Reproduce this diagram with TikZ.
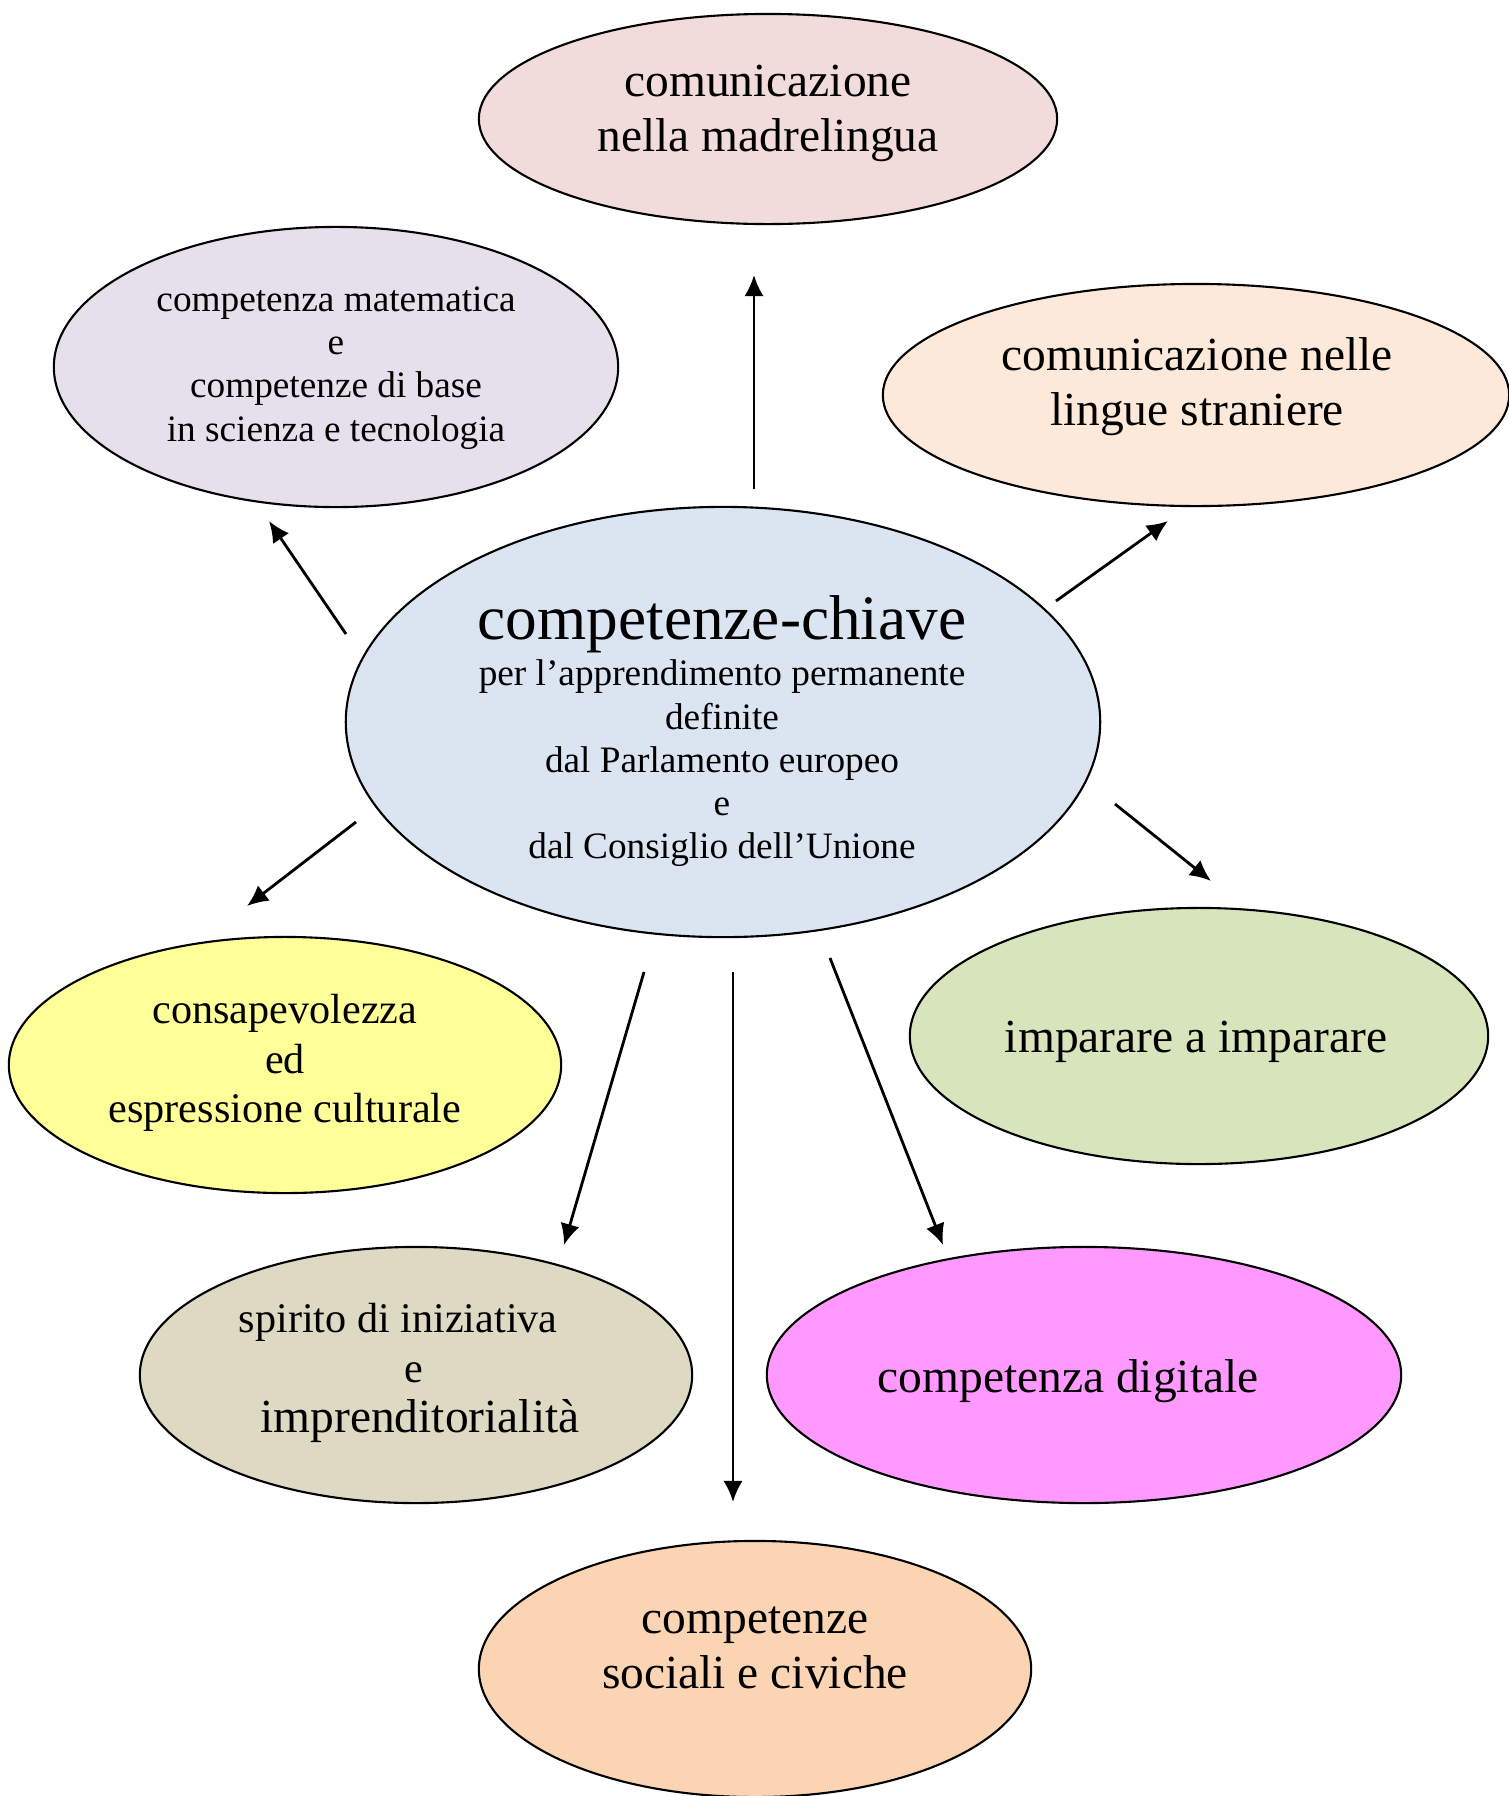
\documentclass[tikz,border=0pt]{standalone}
\usepackage{fontspec}
\setmainfont{Liberation Serif}
\usetikzlibrary{shapes.geometric, arrows.meta}

\definecolor{rosa}{HTML}{F2DCDB}
\definecolor{lilla}{HTML}{E5E0EC}
\definecolor{pesca}{HTML}{FDE9D9}
\definecolor{azzurro}{HTML}{DBE5F1}
\definecolor{giallo}{HTML}{FFFF99}
\definecolor{verde}{HTML}{D7E4BC}
\definecolor{sabbia}{HTML}{DDD9C3}
\definecolor{fucsia}{HTML}{FF99FF}
\definecolor{albicocca}{HTML}{FBD4B4}

\begin{document}
\begin{tikzpicture}[x=0.01cm, y=-0.01cm,
    bolla/.style={ellipse, draw, line width=0.6pt, inner sep=0pt},
    freccia/.style={-{Latex[length=6pt,width=5.5pt]}, line width=0.8pt},
    testo/.style={align=center, font=\fontsize{13.5}{15.6}\selectfont},
    testopiccolo/.style={align=center, font=\fontsize{10.6}{12.3}\selectfont}]

    \useasboundingbox (0,0) rectangle (1509,1796);

    % Central ellipse
    \node[bolla, fill=azzurro, minimum width=7.54cm, minimum height=4.30cm] (chiave) at (723,722) {};
    \node[testopiccolo] (chiave-t) at (722,731) {{\fontsize{18}{20}\selectfont competenze-chiave}\\[1pt]
        per l’apprendimento permanente\\ definite\\ dal Parlamento europeo\\ e\\ dal Consiglio dell’Unione};

    % Top row
    \node[bolla, fill=rosa, minimum width=5.78cm, minimum height=2.10cm] (madre) at (768,119) {};
    \node[testo] (madre-t) at (768,113) {comunicazione\\nella madrelingua};

    \node[bolla, fill=lilla, minimum width=5.64cm, minimum height=2.80cm] (mate) at (336,367) {};
    \node[testopiccolo] (mate-t) at (336,368) {competenza matematica\\e\\competenze di base\\in scienza e tecnologia};

    \node[bolla, fill=pesca, minimum width=6.26cm, minimum height=2.22cm] (lingue) at (1196,395) {};
    \node[testo] (lingue-t) at (1197,387) {comunicazione nelle\\lingue straniere};

    % Middle row
    \node[bolla, fill=giallo, minimum width=5.52cm, minimum height=2.56cm] (cultura) at (285,1065) {};
    \node[align=center, font=\fontsize{12}{14}\selectfont] (cultura-t) at (285,1063) {consapevolezza\\ed\\espressione culturale};

    \node[bolla, fill=verde, minimum width=5.78cm, minimum height=2.56cm] (imparare) at (1199,1036) {};
    \node[testo] (imparare-t) at (1196,1042) {imparare a imparare};

    % Bottom rows
    \node[bolla, fill=sabbia, minimum width=5.52cm, minimum height=2.56cm] (spirito) at (416,1375) {};
    \node[align=center, font=\fontsize{12}{14.3}\selectfont] (spirito-t) at (414,1373) {spirito di iniziativa\hspace*{9pt}\\e\\{\fontsize{13.5}{15}\selectfont\ imprenditorialità}};

    \node[bolla, fill=fucsia, minimum width=6.34cm, minimum height=2.56cm] (digitale) at (1084,1375) {};
    \node[testo] (digitale-t) at (1068,1381) {competenza digitale};

    \node[bolla, fill=albicocca, minimum width=5.52cm, minimum height=2.56cm] (sociali) at (755,1669) {};
    \node[testo] (sociali-t) at (755,1648) {competenze\\sociali e civiche};

    % Arrows
    \coordinate (su-a) at (754,489);       \coordinate (su-b) at (754,275);
    \coordinate (sx-a) at (346,634);       \coordinate (sx-b) at (269,521);
    \coordinate (dx-a) at (1056,601);      \coordinate (dx-b) at (1168,521);
    \coordinate (gsx-a) at (356,822);      \coordinate (gsx-b) at (247,906);
    \coordinate (gdx-a) at (1115,804);     \coordinate (gdx-b) at (1211,881);
    \coordinate (bsx-a) at (644,972);      \coordinate (bsx-b) at (564,1245);
    \coordinate (giu-a) at (733,972);      \coordinate (giu-b) at (733,1502);
    \coordinate (bdx-a) at (830,958);      \coordinate (bdx-b) at (943,1245);

    \draw[freccia] (su-a) -- (su-b);
    \draw[freccia] (sx-a) -- (sx-b);
    \draw[freccia] (dx-a) -- (dx-b);
    \draw[freccia] (gsx-a) -- (gsx-b);
    \draw[freccia] (gdx-a) -- (gdx-b);
    \draw[freccia] (bsx-a) -- (bsx-b);
    \draw[freccia] (giu-a) -- (giu-b);
    \draw[freccia] (bdx-a) -- (bdx-b);
\end{tikzpicture}
\end{document}
